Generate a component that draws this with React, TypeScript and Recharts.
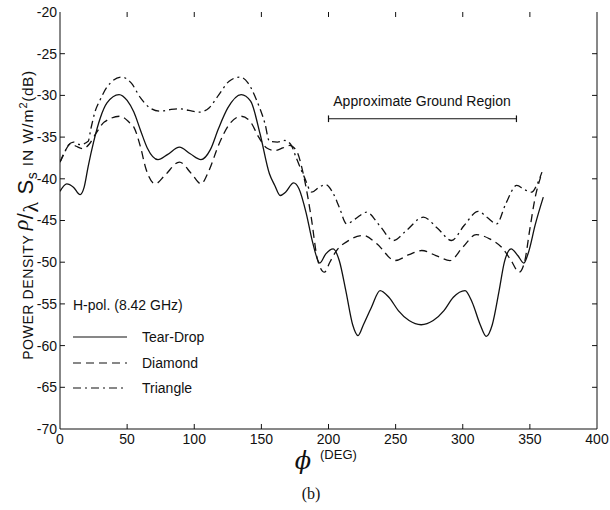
import { LineChart, Line, XAxis, YAxis, ReferenceLine } from 'recharts';

// azimuth angle (deg) vs power density (dB)
const tearDropPhi = [0, 5, 10, 15, 18, 21, 25, 30, 35, 44, 50, 55, 60, 65, 73, 80, 89, 97, 105, 112, 118, 125, 135, 142, 149, 156, 160, 164, 168, 174, 178, 183.5, 188, 193.5, 198, 203.5, 208, 213, 218, 222, 226, 232, 238.4, 245, 252, 260, 269, 278, 286, 293, 301.7, 307, 313, 317.5, 322, 327, 331, 336, 341, 345.5, 349, 354, 360];
const tearDropDb = [-41.5, -40.6, -41.0, -41.9, -41.0, -38.5, -35.6, -32.7, -30.9, -29.9, -30.6, -32.0, -34.2, -36.3, -37.7, -37.1, -36.2, -37.0, -37.7, -36.5, -34.0, -31.5, -29.9, -30.7, -34.6, -39.4, -40.8, -42.0, -41.6, -40.5, -41.2, -44.2, -47.5, -50.1, -49.0, -48.4, -49.8, -53.5, -57.5, -58.8, -57.5, -55.4, -53.4, -54.2, -55.8, -57.0, -57.5, -57.0, -55.8, -54.2, -53.4, -54.8, -57.5, -58.9, -57.5, -53.5, -50.0, -48.4, -49.2, -50.1, -48.8, -45.5, -42.2];

const diamondPhi = [0, 4, 8, 12, 17, 22, 27, 33, 45, 52, 55, 60, 64, 71, 78, 89, 98, 105, 111, 118, 126, 135, 142, 148, 154, 160, 166, 171, 176, 182, 187, 192, 197, 201, 206, 214, 226, 236, 249.5, 260, 269.4, 280, 290.5, 300, 310, 320, 330, 336, 342, 346, 350, 354, 358];
const diamondDb = [-38.0, -36.6, -35.8, -36.1, -36.4, -35.8, -34.5, -33.2, -32.5, -33.3, -33.8, -36.2, -38.8, -40.6, -39.6, -38.0, -39.4, -40.6, -39.0, -36.0, -33.5, -32.5, -33.2, -35.0, -36.3, -36.6, -36.3, -36.0, -36.6, -40.0, -44.5, -49.8, -51.2, -50.0, -48.6, -47.5, -46.8, -47.8, -49.8, -49.1, -48.6, -49.2, -49.8, -48.2, -46.7, -47.2, -48.4, -49.8, -51.2, -50.0, -46.0, -42.2, -39.8];

const trianglePhi = [0, 3, 6, 10, 15, 21, 23, 26, 30, 35, 46, 53, 60, 67, 74.5, 82, 89, 96, 104, 111, 118, 126, 134, 140, 146.5, 152.7, 156, 162, 167.5, 172, 176, 182, 187.5, 193, 198, 203, 208, 213.5, 220, 228.5, 238, 248.3, 258, 270.6, 281, 291.7, 301, 311.5, 318, 325.3, 332, 340.2, 346, 351.4, 355, 359];
const triangleDb = [-38.0, -37.0, -36.0, -35.6, -35.9, -35.5, -34.0, -32.0, -30.5, -29.0, -27.8, -28.5, -30.3, -31.5, -31.9, -31.7, -31.6, -31.8, -32.0, -31.5, -30.0, -28.3, -27.8, -28.5, -30.6, -33.4, -35.5, -35.6, -35.4, -35.9, -37.5, -39.8, -41.6, -41.0, -40.7, -41.6, -43.4, -45.4, -44.8, -44.0, -45.6, -47.4, -46.2, -44.6, -45.9, -47.4, -45.6, -43.9, -44.6, -45.4, -43.0, -40.8, -41.3, -41.6, -40.8, -39.2];

const phiTicks = [0, 50, 100, 150, 200, 250, 300, 350, 400];
const dbTicks = [-70, -65, -60, -55, -50, -45, -40, -35, -30, -25, -20];

const groundRegion = [200, 340];
const groundLevel = -32.8;

const toPoints = (xs: number[], ys: number[]) => xs.map((x, i) => ({ x, y: ys[i] }));
const tearDrop = toPoints(tearDropPhi, tearDropDb);
const diamond = toPoints(diamondPhi, diamondDb);
const triangle = toPoints(trianglePhi, triangleDb);

const INK = '#111';
const SANS = '"Liberation Sans", Arial, sans-serif';
const SERIF = '"Liberation Serif", serif';
const tickStyle = { fill: INK, fontSize: 14, fontFamily: SANS };
// inward tick length, in axis units (~5px)
const TICK_PHI = 3.7;
const TICK_DB = 0.6;

const W = 610;
const H = 510;

export default function App() {
  // fixed so the figure never makes the page scroll
  return (
    <div style={{ position: 'fixed', left: 0, top: 0, width: W, height: H, background: '#fff' }}>
      <LineChart width={W} height={H} data={tearDrop} margin={{ top: 12, right: 13, bottom: 0, left: 0 }}>
        <XAxis dataKey="x" type="number" domain={[0, 400]} ticks={phiTicks} allowDataOverflow
          height={81} tickLine={false} tickSize={0} tickMargin={5} tick={tickStyle} stroke={INK} />
        <XAxis xAxisId="top" orientation="top" dataKey="x" type="number" domain={[0, 400]} ticks={phiTicks}
          height={0} tickLine={false} tick={false} stroke={INK} />
        <YAxis type="number" domain={[-70, -20]} ticks={dbTicks} allowDataOverflow
          width={60} tickLine={false} tickSize={0} tickMargin={3} tick={tickStyle} stroke={INK} />
        <YAxis yAxisId="right" orientation="right" type="number" domain={[-70, -20]} ticks={dbTicks}
          width={0} tickLine={false} tick={false} stroke={INK} />

        {phiTicks.slice(1, -1).map(t => (
          <ReferenceLine key={`b${t}`} segment={[{ x: t, y: -70 }, { x: t, y: -70 + TICK_DB }]} stroke={INK} />
        ))}
        {phiTicks.slice(1, -1).map(t => (
          <ReferenceLine key={`t${t}`} segment={[{ x: t, y: -20 }, { x: t, y: -20 - TICK_DB }]} stroke={INK} />
        ))}
        {dbTicks.slice(1, -1).map(t => (
          <ReferenceLine key={`l${t}`} segment={[{ x: 0, y: t }, { x: TICK_PHI, y: t }]} stroke={INK} />
        ))}
        {dbTicks.slice(1, -1).map(t => (
          <ReferenceLine key={`r${t}`} segment={[{ x: 400, y: t }, { x: 400 - TICK_PHI, y: t }]} stroke={INK} />
        ))}
        <ReferenceLine segment={[{ x: 400, y: -70 }, { x: 400, y: -20 }]} stroke={INK} />

        <ReferenceLine segment={[{ x: groundRegion[0], y: groundLevel }, { x: groundRegion[1], y: groundLevel }]} stroke={INK} strokeWidth={1.2} />
        <ReferenceLine segment={[{ x: groundRegion[0], y: groundLevel - 0.4 }, { x: groundRegion[0], y: groundLevel + 0.4 }]} stroke={INK} strokeWidth={1.2} />
        <ReferenceLine segment={[{ x: groundRegion[1], y: groundLevel - 0.4 }, { x: groundRegion[1], y: groundLevel + 0.4 }]} stroke={INK} strokeWidth={1.2} />

        <Line data={tearDrop} dataKey="y" type="monotone" stroke={INK} strokeWidth={1.3} dot={false} isAnimationActive={false} />
        <Line data={diamond} dataKey="y" type="monotone" stroke={INK} strokeWidth={1.3} strokeDasharray="8 5" dot={false} isAnimationActive={false} />
        <Line data={triangle} dataKey="y" type="monotone" stroke={INK} strokeWidth={1.3} strokeDasharray="8 4 2 4" dot={false} isAnimationActive={false} />
      </LineChart>

      <svg width={W} height={H} style={{ position: 'absolute', left: 0, top: 0, pointerEvents: 'none' }}>
        <text x={422} y={106} textAnchor="middle" fontFamily={SANS} fontSize={14} fill={INK}>Approximate Ground Region</text>

        <g fontFamily={SANS} fontSize={14} fill={INK}>
          <text x={73} y={310}>H-pol. (8.42 GHz)</text>
          <line x1={73} x2={127} y1={337} y2={337} stroke={INK} strokeWidth={1.2} />
          <text x={142} y={342}>Tear-Drop</text>
          <line x1={73} x2={127} y1={363} y2={363} stroke={INK} strokeWidth={1.2} strokeDasharray="8 5" />
          <text x={142} y={368}>Diamond</text>
          <line x1={73} x2={127} y1={388} y2={388} stroke={INK} strokeWidth={1.2} strokeDasharray="8 4 2 4" />
          <text x={142} y={393}>Triangle</text>
        </g>

        <g transform="translate(33 215) rotate(-90)">
          <text x={0} y={0} textAnchor="middle" fontFamily={SANS} fontSize={14} fill={INK} letterSpacing={0.6}>
            <tspan>POWER DENSITY </tspan>
            <tspan fontSize={22} fontFamily={SERIF} fontStyle="italic" dy={-5}>ρ</tspan>
            <tspan fontSize={22} dy={5}>/</tspan>
            <tspan fontSize={22} fontFamily={SERIF} dy={5}>λ</tspan>
            <tspan fontSize={22} dy={-5}> S</tspan>
            <tspan fontSize={14} dy={4}>s</tspan>
            <tspan fontSize={15.5} letterSpacing={1} dy={-4}>  IN W/m</tspan>
            <tspan fontSize={11} dy={-6}>2</tspan>
            <tspan fontSize={15.5} dy={6}>(dB)</tspan>
          </text>
        </g>

        <text x={303} y={469} textAnchor="middle" fontFamily={'"DejaVu Serif", serif'} fontStyle="italic" fontSize={24} fill={INK}>ϕ</text>
        <text x={320} y={459} fontFamily={SANS} fontSize={13} fill={INK}>(DEG)</text>
        <text x={311} y={499} textAnchor="middle" fontFamily={SERIF} fontSize={16} fill={INK}>(b)</text>
      </svg>
    </div>
  );
}
